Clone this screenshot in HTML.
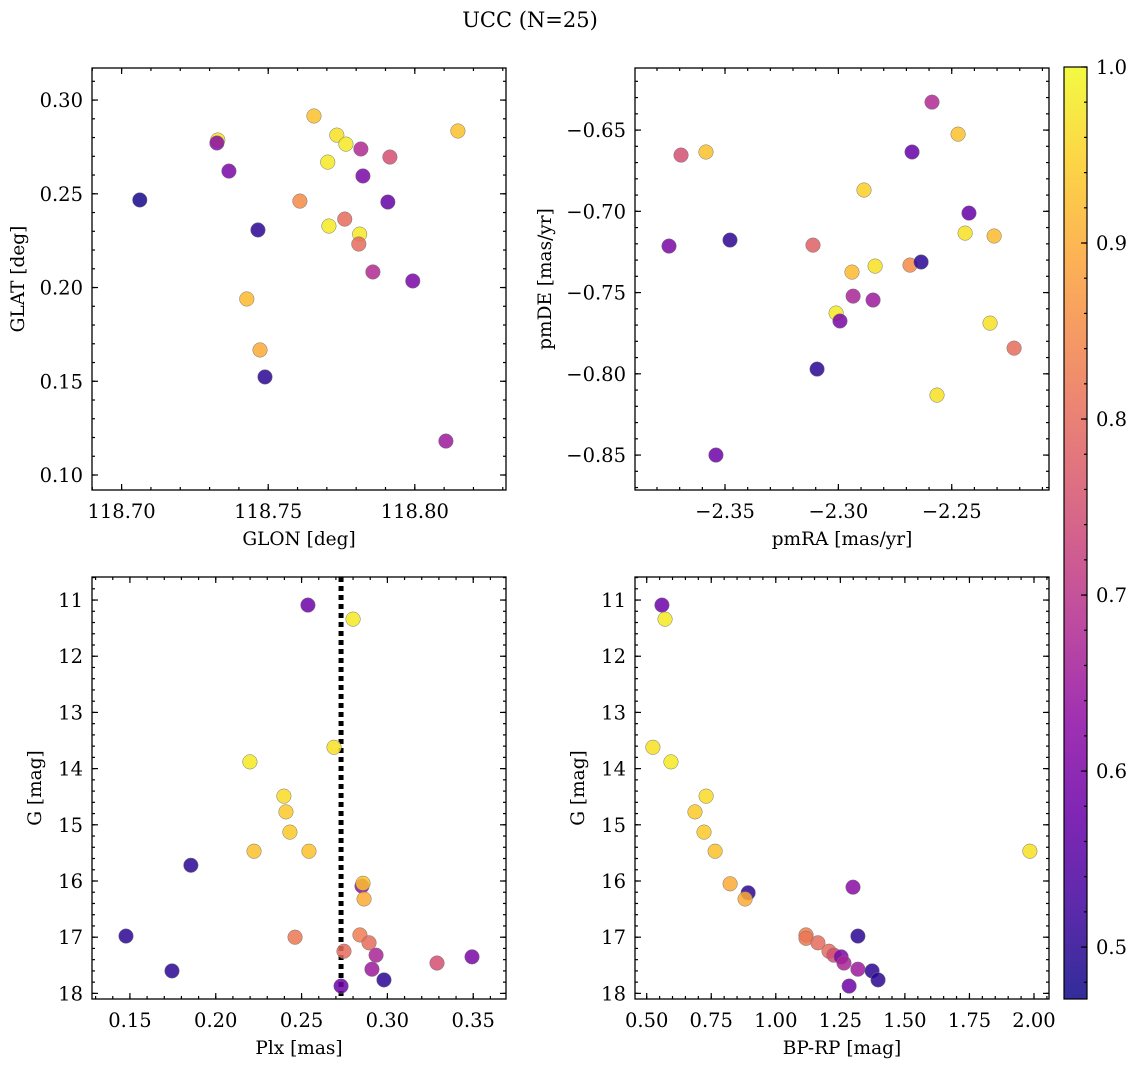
<!DOCTYPE html>
<html><head><meta charset="utf-8"><style>
html,body{margin:0;padding:0;background:#fff;width:1136px;height:1067px;overflow:hidden}
svg{display:block;font-family:"DejaVu Serif","Liberation Serif",serif}
</style></head><body>
<svg id="fig" width="1136" height="1067" viewBox="0 0 1136 1067" xmlns="http://www.w3.org/2000/svg">
<defs><linearGradient id="cbg" x1="0" y1="1" x2="0" y2="0"></linearGradient></defs>
<text x="530" y="27" font-size="21" text-anchor="middle">UCC (N=25)</text>
</svg>
<script>
// Panel 1: GLON vs GLAT
const glon=[118.7328,118.7325,118.7366,118.7465,118.7427,118.7472,118.7489,118.7656,118.7734,118.7765,118.7703,118.7816,118.7823,118.7915,118.7608,118.7761,118.7707,118.7812,118.7809,118.7908,118.7857,118.7993,118.8147,118.7062,118.8106];
const glat=[0.2787,0.2771,0.2621,0.2307,0.1939,0.1667,0.1523,0.2915,0.2813,0.2765,0.2669,0.2739,0.2595,0.2696,0.2461,0.2365,0.2328,0.2285,0.2232,0.2456,0.2083,0.2035,0.2835,0.2467,0.1181];
const prob1=[0.97,0.62,0.6,0.5,0.92,0.9,0.5,0.93,0.97,0.98,0.98,0.68,0.6,0.75,0.85,0.8,0.98,0.98,0.8,0.57,0.68,0.6,0.93,0.48,0.65];
// Panel 2: pmRA vs pmDE
const pmra=[-2.3694,-2.3584,-2.3747,-2.3478,-2.3112,-2.2887,-2.2940,-2.2838,-2.3010,-2.2993,-2.2935,-2.2847,-2.3094,-2.3540,-2.2675,-2.2587,-2.2472,-2.2424,-2.2441,-2.2313,-2.2684,-2.2635,-2.2331,-2.2225,-2.2565];
const pmde=[-0.6654,-0.6635,-0.7214,-0.7177,-0.7208,-0.6869,-0.7374,-0.7337,-0.7626,-0.7675,-0.7522,-0.7546,-0.7971,-0.8500,-0.6635,-0.6328,-0.6525,-0.7011,-0.7134,-0.7152,-0.7331,-0.7312,-0.7688,-0.7842,-0.8131];
const prob2=[0.75,0.93,0.6,0.5,0.78,0.95,0.92,0.97,0.98,0.6,0.67,0.65,0.5,0.58,0.57,0.68,0.93,0.57,0.97,0.92,0.85,0.5,0.97,0.8,0.97];
// Panel 3: Plx vs G
const plx=[0.2537,0.2800,0.2689,0.2199,0.2397,0.2409,0.2432,0.2223,0.2543,0.1855,0.2852,0.2858,0.2864,0.1477,0.2462,0.2840,0.2893,0.2747,0.2934,0.3289,0.3493,0.1745,0.2910,0.2980,0.2730];
const gmag3=[11.09,11.34,13.62,13.88,14.49,14.77,15.13,15.47,15.47,15.72,16.09,16.04,16.32,16.98,17.00,16.96,17.10,17.25,17.32,17.46,17.35,17.60,17.57,17.76,17.87];
const prob3=[0.58,0.98,0.97,0.98,0.96,0.94,0.94,0.93,0.93,0.5,0.62,0.93,0.9,0.5,0.82,0.83,0.8,0.8,0.67,0.75,0.6,0.5,0.65,0.5,0.58];
const plxMedian=[0.273];
// Panel 4: BP-RP vs G
const bprp=[0.559,0.571,0.524,0.594,0.730,0.687,0.722,0.765,1.984,0.823,0.893,0.881,1.299,1.117,1.117,1.163,1.206,1.225,1.253,1.264,1.318,1.318,1.373,1.396,1.284];
const gmag4=[11.09,11.34,13.62,13.88,14.49,14.77,15.13,15.47,15.47,16.05,16.21,16.32,16.11,16.96,17.02,17.10,17.25,17.32,17.35,17.46,17.57,16.98,17.60,17.76,17.87];
const prob4=[0.58,0.98,0.97,0.98,0.96,0.94,0.94,0.93,0.97,0.9,0.5,0.9,0.62,0.83,0.82,0.8,0.8,0.75,0.6,0.67,0.65,0.5,0.5,0.5,0.58];
// tick labels
const ticksX1=["118.70","118.75","118.80"];
const ticksY1=["0.10","0.15","0.20","0.25","0.30"];
const ticksX2=["−2.35","−2.30","−2.25"];
const ticksY2=["−0.85","−0.80","−0.75","−0.70","−0.65"];
const ticksX3=["0.15","0.20","0.25","0.30","0.35"];
const ticksG=["11","12","13","14","15","16","17","18"];
const ticksX4=["0.50","0.75","1.00","1.25","1.50","1.75","2.00"];
const ticksCB=["0.5","0.6","0.7","0.8","0.9","1.0"];

const NS="http://www.w3.org/2000/svg";
const svg=document.getElementById('fig');
function mk(tag,attrs,parent){const e=document.createElementNS(NS,tag);for(const k in attrs)e.setAttribute(k,attrs[k]);(parent||svg).appendChild(e);return e;}
const stops=[[13,8,135],[65,4,157],[106,0,168],[143,13,164],[177,42,144],[204,71,120],[225,100,98],[242,132,75],[252,166,54],[252,206,37],[240,249,33]];
function plasma(t){t=Math.max(0,Math.min(1,t))*10;const i=Math.min(9,Math.floor(t)),f=t-i;const a=stops[i],b=stops[i+1];return `rgb(${Math.round(a[0]+(b[0]-a[0])*f)},${Math.round(a[1]+(b[1]-a[1])*f)},${Math.round(a[2]+(b[2]-a[2])*f)})`;}
const cmin=0.4705,cmax=1.0;
function cnorm(v){return (v-cmin)/(cmax-cmin);}
const TF=19.5, LF=18.5;

function panel(o){
  const g=mk('g',{});
  
  
  const L=o.L,T=o.T,W=o.W,H=o.H;
  const sx=v=>L+(v-o.xmin)/(o.xmax-o.xmin)*W;
  const sy=o.invert? v=>T+(v-o.ymin)/(o.ymax-o.ymin)*H : v=>T+H-(v-o.ymin)/(o.ymax-o.ymin)*H;
  const tg=mk('g',{stroke:'#000','stroke-width':1.2},g);
  function ticksX(vals,len){vals.forEach(v=>{const x=sx(v);if(x<L-0.5||x>L+W+0.5)return;mk('line',{x1:x,x2:x,y1:T+H,y2:T+H-len},tg);mk('line',{x1:x,x2:x,y1:T,y2:T+len},tg);});}
  function ticksY(vals,len){vals.forEach(v=>{const y=sy(v);if(y<T-0.5||y>T+H+0.5)return;mk('line',{x1:L,x2:L+len,y1:y,y2:y},tg);mk('line',{x1:L+W,x2:L+W-len,y1:y,y2:y},tg);});}
  const rng=(a,b,s)=>{const r=[];for(let v=a;v<=b+s/1000;v+=s)r.push(+v.toFixed(6));return r;};
  ticksX(rng(o.xmajor[0],o.xmajor[1],o.xstep),6);
  ticksX(rng(o.xminor[0],o.xminor[1],o.xmstep),3);
  ticksY(rng(o.ymajor[0],o.ymajor[1],o.ystep),6);
  ticksY(rng(o.yminor[0],o.yminor[1],o.ymstep),3);
  o.xlabels.forEach((s,i)=>{const v=o.xmajor[0]+i*o.xstep;const t=mk('text',{x:sx(v),y:T+H+28,'font-size':TF,'text-anchor':'middle'},g);t.textContent=s;});
  o.ylabels.forEach((s,i)=>{const v=o.ymajor[0]+i*o.ystep;const t=mk('text',{x:L-9,y:sy(v)+7,'font-size':TF,'text-anchor':'end'},g);t.textContent=s;});
  const xl=mk('text',{x:L+W/2,y:T+H+55,'font-size':LF,'text-anchor':'middle'},g);xl.textContent=o.xt;
  
  
  const yl=mk('text',{x:0,y:0,'font-size':LF,'text-anchor':'middle',transform:`translate(${o.ytx},${T+H/2}) rotate(-90)`},g);yl.textContent=o.yt;
  
  
  if(o.vline!==undefined){const x=sx(o.vline);const ln=mk('line',{x1:x,x2:x,y1:T,y2:T+H,stroke:'#000','stroke-width':5,'stroke-dasharray':'5 4'},g);
    
    }
  o.xs.forEach((xv,i)=>{
    const c=mk('circle',{cx:sx(xv),cy:sy(o.ys[i]),r:7.3,fill:plasma(cnorm(o.cs[i])),'fill-opacity':0.85,stroke:'#777','stroke-width':0.5},g);
    
    
  });
  mk('rect',{x:L,y:T,width:W,height:H,fill:'none',stroke:'#000','stroke-width':1.3},g);
}
panel({name:'glon-glat-panel',L:92,T:68,W:414,H:422,xmin:118.6899,xmax:118.8311,ymin:0.092,ymax:0.3171,
  xmajor:[118.70,118.80],xstep:0.05,xminor:[118.69,118.83],xmstep:0.01,ymajor:[0.10,0.30],ystep:0.05,yminor:[0.10,0.31],ymstep:0.01,
  xlabels:ticksX1,ylabels:ticksY1,xt:'GLON [deg]',yt:'GLAT [deg]',ytx:24,xs:glon,ys:glat,cs:prob1});
panel({name:'pm-panel',L:635,T:68,W:414,H:422,xmin:-2.3897,xmax:-2.2071,ymin:-0.8715,ymax:-0.6118,
  xmajor:[-2.35,-2.25],xstep:0.05,xminor:[-2.38,-2.21],xmstep:0.01,ymajor:[-0.85,-0.65],ystep:0.05,yminor:[-0.87,-0.62],ymstep:0.01,
  xlabels:ticksX2,ylabels:ticksY2,xt:'pmRA [mas/yr]',yt:'pmDE [mas/yr]',ytx:551,xs:pmra,ys:pmde,cs:prob2});
panel({name:'plx-g-panel',L:92,T:577,W:414,H:422,xmin:0.1279,xmax:0.3691,ymin:10.59,ymax:18.10,invert:true,
  xmajor:[0.15,0.35],xstep:0.05,xminor:[0.13,0.36],xmstep:0.01,ymajor:[11,18],ystep:1,yminor:[10.6,18],ymstep:0.2,
  xlabels:ticksX3,ylabels:ticksG,xt:'Plx [mas]',yt:'G [mag]',ytx:41,xs:plx,ys:gmag3,cs:prob3,vline:plxMedian[0]});
panel({name:'cmd-panel',L:635,T:577,W:414,H:422,xmin:0.4547,xmax:2.0581,ymin:10.59,ymax:18.10,invert:true,
  xmajor:[0.5,2.0],xstep:0.25,xminor:[0.45,2.05],xmstep:0.05,ymajor:[11,18],ystep:1,yminor:[10.6,18],ymstep:0.2,
  xlabels:ticksX4,ylabels:ticksG,xt:'BP-RP [mag]',yt:'G [mag]',ytx:584,xs:bprp,ys:gmag4,cs:prob4});
const grad=document.getElementById('cbg');
for(let k=0;k<=10;k++){mk('stop',{offset:k/10,'stop-color':plasma(k/10),'stop-opacity':0.85},grad);}
const cb=mk('g',{});


const CT=67,CB=999,CL=1064,CW=23;
mk('rect',{x:CL,y:CT,width:CW,height:CB-CT,fill:'url(#cbg)',stroke:'#000','stroke-width':1.2},cb);
const cy=v=>CB-(v-cmin)/(cmax-cmin)*(CB-CT);
for(let v=0.48;v<=1.0001;v+=0.02){const y=cy(v);mk('line',{x1:CL+CW,x2:CL+CW-3,y1:y,y2:y,stroke:'#000','stroke-width':1.2},cb);}
ticksCB.forEach((s,i)=>{const v=0.5+i*0.1;const y=cy(v);mk('line',{x1:CL+CW,x2:CL+CW-6,y1:y,y2:y,stroke:'#000','stroke-width':1.2},cb);
  const t=mk('text',{x:CL+CW+9,y:y+7,'font-size':TF},cb);t.textContent=s;});
</script>
</body></html>
